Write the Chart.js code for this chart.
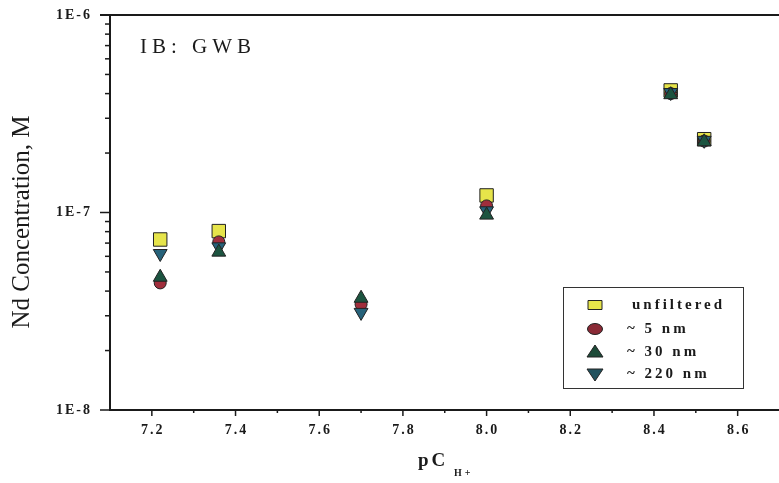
<!DOCTYPE html>
<html>
<head>
<meta charset="utf-8">
<script src="https://cdn.jsdelivr.net/npm/chart.js@4.4.1/dist/chart.umd.min.js"></script>
<style>
  html, body { margin: 0; padding: 0; background: #fff; overflow: hidden; }
  #ndChart { display: block; }
</style>
</head>
<body>
<canvas id="ndChart" width="790" height="483"></canvas>
<script>
// pC(H+) of each sample and Nd concentration (M) per filter size
const pch        = [7.22, 7.36, 7.70, 8.00, 8.44, 8.52];
const unfiltered = [7.3e-8, 8.05e-8, null, 1.22e-7, 4.15e-7, 2.35e-7];
const nm5        = [4.4e-8, 7.1e-8, 3.43e-8, 1.08e-7, 4.0e-7, 2.3e-7];
const nm30       = [4.7e-8, 6.3e-8, 3.68e-8, 9.7e-8, 3.95e-7, 2.28e-7];
const nm220      = [6.2e-8, 6.7e-8, 3.12e-8, 1.02e-7, 4.05e-7, 2.32e-7];

const seriesNames = ['unfiltered', '~ 5 nm', '~ 30 nm', '~ 220 nm'];
const xTickLabels = ['7.2', '7.4', '7.6', '7.8', '8.0', '8.2', '8.4', '8.6'];
const yTickLabels = ['1E-8', '1E-7', '1E-6'];

const INK = '#1a1a1a';
const SERIF = '"Liberation Serif", "DejaVu Serif", serif';

function pts(ys) {
  return pch.map((x, i) => ({ x: x, y: ys[i] })).filter(p => p.y != null);
}

const styles = [
  { fill: '#e6e44a', legend: '#e6e44a', shape: 'rect', r: 9.5, rot: 0, order: 4 },
  { fill: '#a02e3c', legend: '#8a2a36', shape: 'circle', r: 6, rot: 0, order: 3 },
  { fill: '#1c5440', legend: '#1c4a38', shape: 'triangle', r: 8, rot: 0, order: 1 },
  { fill: '#26627a', legend: '#22525e', shape: 'triangle', r: 8, rot: 180, order: 2 }
];

const datasets = [unfiltered, nm5, nm30, nm220].map((ys, i) => ({
  label: seriesNames[i],
  data: pts(ys),
  pointStyle: styles[i].shape,
  pointRadius: styles[i].r,
  pointRotation: styles[i].rot,
  backgroundColor: styles[i].fill,
  borderColor: '#222',
  borderWidth: 1,
  order: styles[i].order
}));

function isMajorX(v) {
  const k = Math.round(v * 10);
  return k % 2 === 0 && k >= 72 && k <= 86;
}

function noPad(s) {
  s.paddingTop = 0;
  s.paddingBottom = 0;
  s.paddingLeft = 0;
  s.paddingRight = 0;
}

// spaced-out text, drawn centred / right-aligned on its glyphs only
function spacedText(ctx, text, x, y, spacing, align) {
  ctx.letterSpacing = spacing + 'px';
  const w = ctx.measureText(text).width - spacing;
  let left = x;
  if (align === 'center') left = x - w / 2;
  if (align === 'right') left = x - w;
  ctx.textAlign = 'left';
  ctx.fillText(text, left, y);
  ctx.letterSpacing = '0px';
}

// ticks, tick labels, frame, title, axis names and legend
const decorations = {
  id: 'decorations',
  afterDraw(chart) {
    const ctx = chart.ctx;
    const a = chart.chartArea;
    const xs = chart.scales.x, ys = chart.scales.y;
    ctx.save();
    ctx.strokeStyle = INK;
    ctx.fillStyle = INK;

    // top frame line
    ctx.lineWidth = 2;
    ctx.beginPath();
    ctx.moveTo(a.left - 10, a.top);
    ctx.lineTo(a.right + 10, a.top);
    ctx.stroke();

    // y ticks and labels
    ctx.lineWidth = 1.5;
    ctx.font = 'bold 14px ' + SERIF;
    ctx.textBaseline = 'middle';
    ys.ticks.forEach(t => {
      const y = ys.getPixelForValue(t.value);
      const e = Math.log10(t.value);
      const m = Math.abs(e - Math.round(e)) < 1e-6;
      ctx.beginPath();
      ctx.moveTo(a.left - (m ? 10 : 5), y);
      ctx.lineTo(a.left, y);
      ctx.stroke();
      if (m) spacedText(ctx, yTickLabels[Math.round(e) + 8], a.left - 20, y, 2, 'right');
    });

    // x ticks and labels
    ctx.textBaseline = 'middle';
    xs.ticks.forEach(t => {
      const k = Math.round(t.value * 10);
      if (k <= 71 || k >= 87) return;
      const x = xs.getPixelForValue(t.value);
      const major = isMajorX(t.value);
      ctx.beginPath();
      ctx.moveTo(x, a.bottom);
      ctx.lineTo(x, a.bottom + (major ? 6 : 3));
      ctx.stroke();
      if (major) spacedText(ctx, xTickLabels[(k - 72) / 2], x, a.bottom + 20, 2, 'center');
    });

    // panel title
    ctx.font = '21px ' + SERIF;
    spacedText(ctx, 'IB: GWB', 140, 47, 5, 'left');

    // x axis title with subscript
    ctx.font = 'bold 19px ' + SERIF;
    ctx.textBaseline = 'alphabetic';
    spacedText(ctx, 'pC', 418, 466, 3, 'left');
    ctx.font = 'bold 10px ' + SERIF;
    spacedText(ctx, 'H+', 454, 476, 3, 'left');

    // y axis title
    ctx.save();
    ctx.translate(22, 222);
    ctx.rotate(-Math.PI / 2);
    ctx.font = '25px ' + SERIF;
    ctx.textAlign = 'center';
    ctx.textBaseline = 'middle';
    ctx.fillText('Nd Concentration, M', 0, 0);
    ctx.restore();

    // legend
    const bx = 563, by = 287, bw = 180, bh = 101;
    ctx.fillStyle = '#fff';
    ctx.fillRect(bx, by, bw, bh);
    ctx.lineWidth = 1;
    ctx.strokeStyle = '#333';
    ctx.strokeRect(bx + 0.5, by + 0.5, bw, bh);
    const rows = [305, 329, 352, 374];
    rows.forEach((ry, i) => {
      const mx = 595;
      ctx.fillStyle = styles[i].legend;
      ctx.strokeStyle = '#222';
      ctx.beginPath();
      if (i === 0) {
        ctx.rect(mx - 7, ry - 4.5, 14, 9);
      } else if (i === 1) {
        ctx.ellipse(mx, ry, 7.5, 5.5, 0, 0, Math.PI * 2);
      } else if (i === 2) {
        ctx.moveTo(mx, ry - 7);
        ctx.lineTo(mx + 8, ry + 5);
        ctx.lineTo(mx - 8, ry + 5);
        ctx.closePath();
      } else {
        ctx.moveTo(mx - 8, ry - 5);
        ctx.lineTo(mx + 8, ry - 5);
        ctx.lineTo(mx, ry + 7);
        ctx.closePath();
      }
      ctx.fill();
      ctx.stroke();
      ctx.fillStyle = INK;
      ctx.font = 'bold 15px ' + SERIF;
      ctx.textBaseline = 'middle';
      spacedText(ctx, seriesNames[i], i === 0 ? 632 : 627, ry, 3, 'left');
    });
    ctx.restore();
  }
};

new Chart(document.getElementById('ndChart'), {
  type: 'scatter',
  data: { datasets: datasets },
  options: {
    responsive: false,
    animation: false,
    layout: { padding: { top: 15, right: 5, left: 0, bottom: 0 } },
    plugins: {
      legend: { display: false },
      tooltip: { enabled: false }
    },
    scales: {
      x: {
        type: 'linear',
        min: 7.1,
        max: 8.7,
        afterFit(s) { s.height = 73; noPad(s); },
        grid: { display: false, drawTicks: false },
        border: { display: true, color: INK, width: 2 },
        ticks: { stepSize: 0.1, autoSkip: false, maxRotation: 0, display: false }
      },
      y: {
        type: 'logarithmic',
        min: 1e-8,
        max: 1e-6,
        afterFit(s) { s.width = 110; noPad(s); },
        afterBuildTicks(s) {
          const t = [];
          for (let e = -8; e < -6; e++) {
            for (let m = 1; m <= 9; m++) t.push({ value: m * Math.pow(10, e) });
          }
          t.push({ value: 1e-6 });
          s.ticks = t;
        },
        grid: { display: false, drawTicks: false },
        border: { display: true, color: INK, width: 2 },
        ticks: { autoSkip: false, display: false }
      }
    }
  },
  plugins: [decorations]
});
</script>
</body>
</html>
